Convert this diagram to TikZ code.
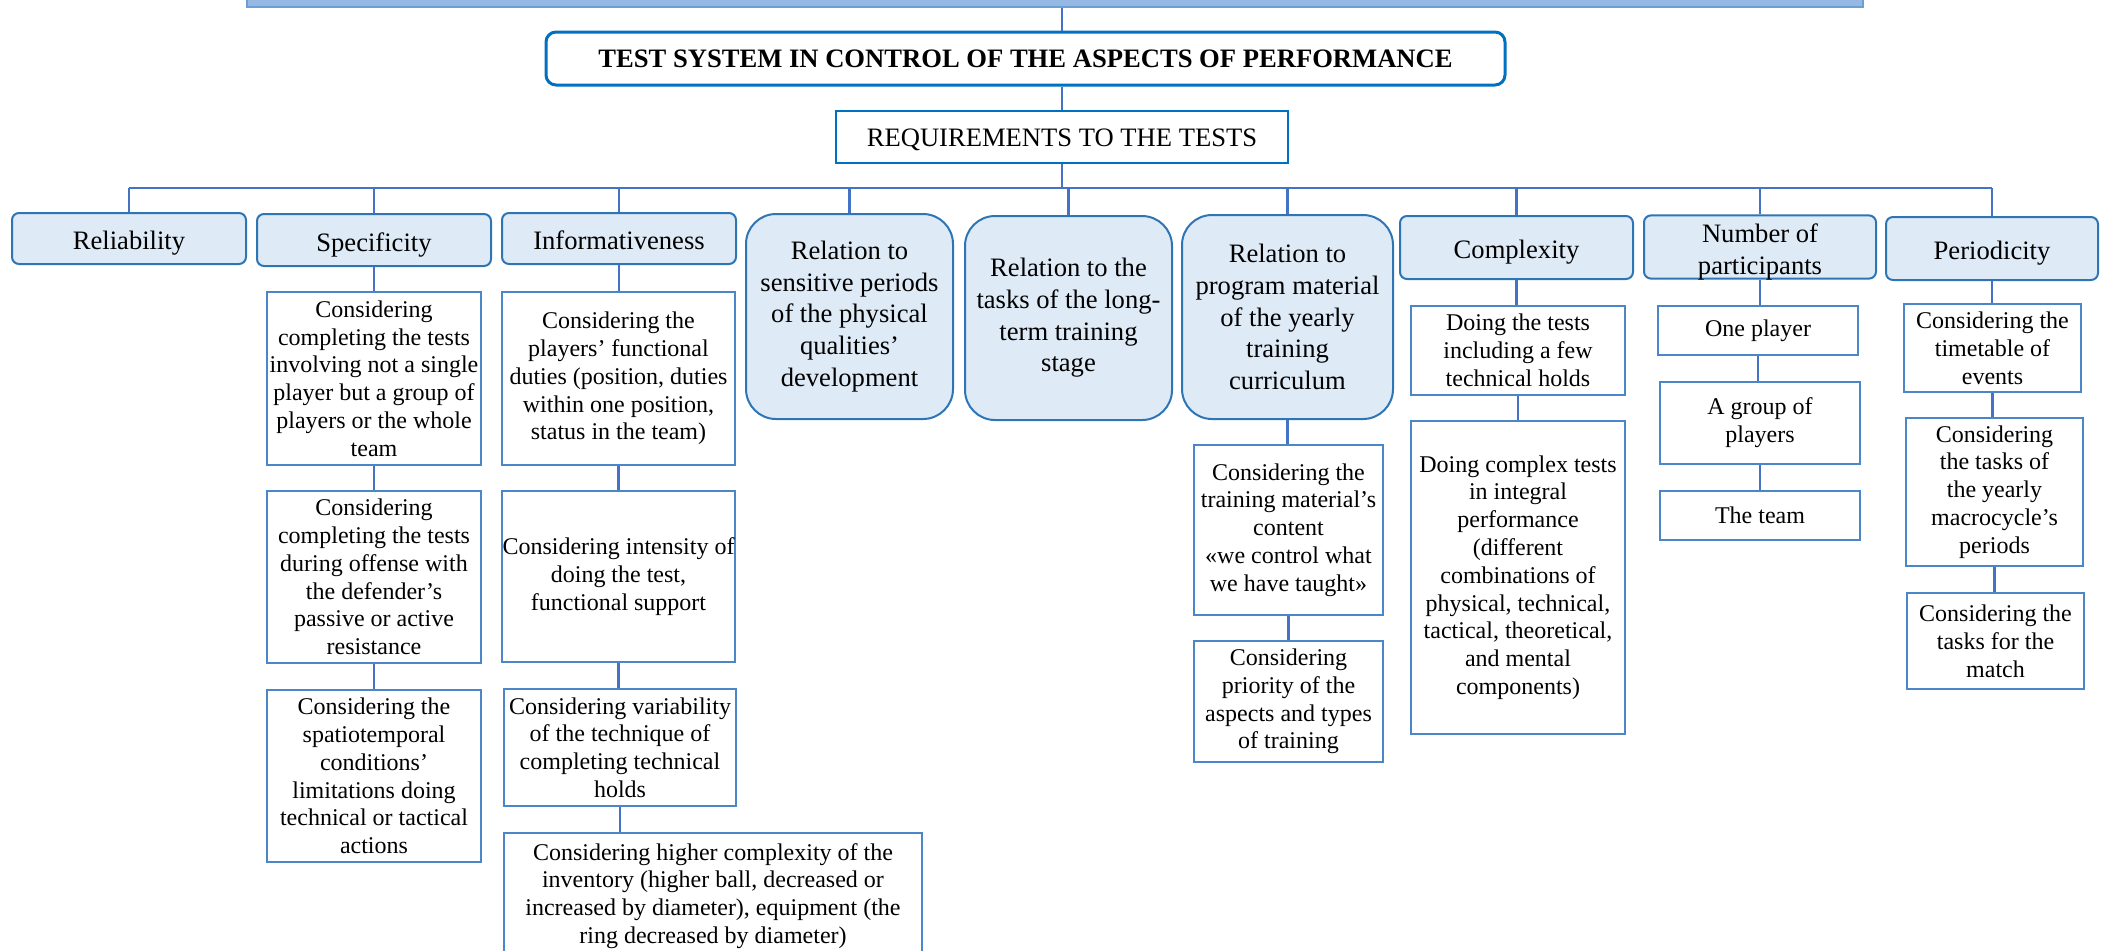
\documentclass[tikz,border=0pt]{standalone}
\usepackage{fontspec}
\setmainfont{Liberation Serif}
\usepackage{tikz}
\usetikzlibrary{positioning}
\definecolor{barfill}{HTML}{95B9E3}
\definecolor{barline}{HTML}{6A9FD6}
\definecolor{titleblue}{HTML}{0070C0}
\definecolor{headfill}{HTML}{DEEAF6}
\definecolor{headline}{HTML}{2E75B6}
\definecolor{itemline}{HTML}{4A86C8}
\definecolor{linkblue}{HTML}{4472C4}
\newcommand{\headlabel}[1]{\raisebox{-2.5pt}[\height][\depth]{\begin{tabular}{@{}c@{}}#1\end{tabular}}}

\begin{document}
\begin{tikzpicture}[x=0.5pt, y=-0.5pt,
    titlebox/.style={draw=titleblue, line width=1.5pt, rounded corners=5pt, fill=white, inner sep=0pt, align=center, font=\bfseries\fontsize{13.3}{16}\selectfont},
    reqbox/.style={draw=titleblue, line width=1.4pt, fill=white, inner sep=0pt, align=center, font=\fontsize{13.3}{16}\selectfont},
    headbox/.style={draw=headline, line width=1pt, fill=headfill, rounded corners=3.5pt, inner sep=0pt, align=center, font=\fontsize{13.3}{15.8}\selectfont},
    bighead/.style={headbox, rounded corners=15pt},
    itembox/.style={draw=itemline, line width=0.8pt, fill=white, inner sep=0pt, align=center, font=\fontsize{12}{13.9}\selectfont},
    link/.style={draw=linkblue, line width=1.1pt}
]
\useasboundingbox (0,0) rectangle (2105,950);

% Top bar (cut by the page edge)
\node[draw=barline, fill=barfill, line width=0.8pt, minimum width=808pt, minimum height=13.5pt, inner sep=0pt] (bar) at (1055,-6.5) {};

% Title
\node[titlebox, minimum width=479.5pt, minimum height=26.5pt] (title) at (1025.5,58.5) {TEST SYSTEM IN CONTROL OF THE ASPECTS OF PERFORMANCE};

% Requirements
\node[reqbox, minimum width=226pt, minimum height=26pt] (req) at (1062,137) {\raisebox{-1.5pt}[\height][\depth]{REQUIREMENTS TO THE TESTS}};

\coordinate (bus) at (1062,188);

% Requirements row
\node[headbox, minimum width=117pt, minimum height=25.5pt] (rel) at (129,238.5) {\headlabel{Reliability}};
\node[headbox, minimum width=117pt, minimum height=26pt] (spec) at (374,240) {\headlabel{Specificity}};
\node[headbox, minimum width=117pt, minimum height=25.5pt] (info) at (619,238.5) {\headlabel{Informativeness}};
\node[bighead, minimum width=103.5pt, minimum height=102.5pt] (sens) at (849.5,316.5) {Relation to\\sensitive periods\\of the physical\\qualities’\\development};
\node[bighead, minimum width=103.5pt, minimum height=102pt] (long) at (1068.5,318) {Relation to the\\tasks of the long-\\term training\\stage};
\node[bighead, minimum width=105.5pt, minimum height=102pt] (prog) at (1287.5,317) {Relation to\\program material\\of the yearly\\training\\curriculum};
\node[headbox, minimum width=116.5pt, minimum height=31.5pt] (cplx) at (1516.5,247.5) {\headlabel{Complexity}};
\node[headbox, minimum width=116pt, minimum height=31pt] (num) at (1760,247) {\headlabel{Number of\\participants}};
\node[headbox, minimum width=106pt, minimum height=31.5pt] (per) at (1992,248.5) {\headlabel{Periodicity}};

% Specificity column
\node[itembox, minimum width=107pt, minimum height=86.5pt] (s1) at (374,378.5) {Considering\\completing the tests\\involving not a single\\player but a group of\\players or the whole\\team};
\node[itembox, minimum width=107pt, minimum height=86pt] (s2) at (374,577) {Considering\\completing the tests\\during offense with\\the defender’s\\passive or active\\resistance};
\node[itembox, minimum width=107pt, minimum height=86pt] (s3) at (374,776) {Considering the\\spatiotemporal\\conditions’\\limitations doing\\technical or tactical\\actions};

% Informativeness column
\node[itembox, minimum width=116.5pt, minimum height=86.5pt] (i1) at (618.5,378.5) {Considering the\\players’ functional\\duties (position, duties\\within one position,\\status in the team)};
\node[itembox, minimum width=116.5pt, minimum height=85.5pt] (i2) at (618.5,576.5) {Considering intensity of\\doing the test,\\functional support};
\node[itembox, minimum width=116pt, minimum height=58.5pt] (i3) at (620,747.5) {Considering variability\\of the technique of\\completing technical\\holds};
\node[itembox, minimum width=209pt, minimum height=63pt] (i4) at (713,896) {Considering higher complexity of the\\inventory (higher ball, decreased or\\increased by diameter), equipment (the\\ring decreased by diameter)};

% Program material column
\node[itembox, minimum width=94.5pt, minimum height=85pt] (p1) at (1288.5,530) {Considering the\\training material’s\\content\\«we control what\\we have taught»};
\node[itembox, minimum width=94.5pt, minimum height=60.5pt] (p2) at (1288.5,701.5) {Considering\\priority of the\\aspects and types\\of training};

% Complexity column
\node[itembox, minimum width=107pt, minimum height=44.5pt] (c1) at (1518,350.5) {Doing the tests\\including a few\\technical holds};
\node[itembox, minimum width=107pt, minimum height=156.5pt] (c2) at (1518,577.5) {Doing complex tests\\in integral\\performance\\(different\\combinations of\\physical, technical,\\tactical, theoretical,\\and mental\\components)};

% Number of participants column
\node[itembox, minimum width=100pt, minimum height=24.5pt] (n1) at (1758,330.5) {One player};
\node[itembox, minimum width=100pt, minimum height=41pt] (n2) at (1760,423) {A group of\\players};
\node[itembox, minimum width=100pt, minimum height=24.5pt] (n3) at (1760,515.5) {The team};

% Periodicity column
\node[itembox, minimum width=88.5pt, minimum height=44pt] (pe1) at (1992.5,348) {Considering the\\timetable of\\events};
\node[itembox, minimum width=88.5pt, minimum height=74pt] (pe2) at (1994.5,492) {Considering\\the tasks of\\the yearly\\macrocycle’s\\periods};
\node[itembox, minimum width=88.5pt, minimum height=48pt] (pe3) at (1995.5,641) {Considering the\\tasks for the\\match};

% Top connections
\draw[link] (bar.south -| req.north) -- (title.north -| req.north);
\draw[link] (title.south -| req.north) -- (req.north);
\draw[link] (req.south) -- (bus);

% Bus to requirements row
\draw[link] (rel.north |- bus) -- (per.north |- bus);
\foreach \n in {rel,spec,info,sens,long,prog,cplx,num,per} {
    \draw[link] (\n.north) -- (\n.north |- bus);
}

% Columns
\foreach \a/\b in {spec/s1,s1/s2,s2/s3,info/i1,i1/i2,i2/i3,i3/i4,prog/p1,p1/p2,cplx/c1,c1/c2,num/n1,n1/n2,n2/n3,per/pe1,pe1/pe2,pe2/pe3} {
    \draw[link] (\a.south) -- (\a.south |- \b.north);
}

\end{tikzpicture}
\end{document}
